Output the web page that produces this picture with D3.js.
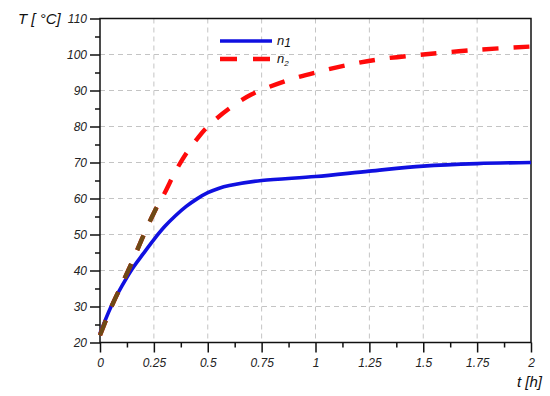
<!DOCTYPE html>
<html>
<head>
<meta charset="utf-8">
<script src="https://cdn.jsdelivr.net/npm/d3@7"></script>
<style>
  body { margin: 0; background: #fff; }
  svg { display: block; font-family: "Liberation Sans", Arial, sans-serif; }
  .tick-label { font-size: 12px; font-style: italic; fill: #222; }
  .axis-title { font-size: 15px; font-style: italic; fill: #111; }
</style>
</head>
<body>
<svg id="chart" width="550" height="396"></svg>
<script>
// ---- data ----
const tN1 = [0, 0.05, 0.1, 0.15, 0.2, 0.25, 0.3, 0.35, 0.4, 0.45, 0.5, 0.55, 0.6, 0.75, 1.0, 1.25, 1.5, 1.75, 2.0];
const valN1 = [22.5, 29.8, 35.5, 40.5, 44.6, 48.6, 52.2, 55.2, 57.8, 59.9, 61.6, 62.8, 63.6, 65.0, 66.1, 67.6, 69.0, 69.7, 70.0];
const tN2 = [0, 0.05, 0.1, 0.15, 0.2, 0.25, 0.3, 0.35, 0.4, 0.45, 0.5, 0.6, 0.7, 0.85, 1.0, 1.15, 1.3, 1.5, 1.75, 2.0];
const valN2 = [22, 29.5, 36, 42.5, 49.5, 56, 61.5, 67.5, 72.5, 76.5, 80, 85, 88.8, 92.4, 95, 97.1, 98.7, 100, 101.3, 102.2];
const xTicks = [0, 0.25, 0.5, 0.75, 1, 1.25, 1.5, 1.75, 2];
const xTickLabels = ['0', '0.25', '0.5', '0.75', '1', '1.25', '1.5', '1.75', '2'];
const yTicks = [20, 30, 40, 50, 60, 70, 80, 90, 100, 110];
const brownUntil = 0.27; // early part of n2 drawn brown in the original

const svg = d3.select('#chart');
const m = { left: 100, right: 531, top: 18.5, bottom: 342.5 };

const x = d3.scaleLinear().domain([0, 2]).range([m.left, m.right]);
const y = d3.scaleLinear().domain([20, 110]).range([m.bottom, m.top]);

// ============== grid ==============
const grid = svg.append('g').attr('stroke', '#c4c4c4').attr('stroke-width', 1).attr('stroke-dasharray', '5,4');
grid.selectAll('.vg').data(xTicks.slice(1, -1)).enter().append('line')
  .attr('x1', d => x(d)).attr('x2', d => x(d)).attr('y1', m.top).attr('y2', m.bottom);
grid.selectAll('.hg').data(yTicks.slice(1, -1)).enter().append('line')
  .attr('x1', m.left).attr('x2', m.right).attr('y1', d => y(d)).attr('y2', d => y(d));

// ============== axes ==============
const yAxis = svg.append('g').attr('transform', `translate(${m.left},0)`)
  .call(d3.axisLeft(y).tickValues(yTicks).tickSize(10).tickPadding(3));
const yMinor = svg.append('g').attr('transform', `translate(${m.left},0)`)
  .call(d3.axisLeft(y).tickValues(d3.range(25, 110, 10)).tickSize(5).tickFormat(''));

const xAxis = svg.append('g').attr('transform', `translate(0,${m.bottom})`)
  .call(d3.axisBottom(x).tickValues(xTicks).tickSize(10).tickPadding(6).tickFormat((d, i) => xTickLabels[i]));
const xMinor = svg.append('g').attr('transform', `translate(0,${m.bottom})`)
  .call(d3.axisBottom(x).tickValues(d3.range(0.125, 2, 0.25)).tickSize(5).tickFormat(''));

[yAxis, yMinor, xAxis, xMinor].forEach(g => {
  g.select('.domain').remove();
  g.selectAll('.tick line').attr('stroke', '#111').attr('stroke-width', 1.5);
  g.selectAll('.tick text').attr('class', 'tick-label').attr('font-size', null).attr('font-family', null);
});

// frame
svg.append('rect').attr('x', m.left).attr('y', m.top)
  .attr('width', m.right - m.left).attr('height', m.bottom - m.top)
  .attr('fill', 'none').attr('stroke', '#111').attr('stroke-width', 1.5);

// ============== curves ==============
const line = d3.line().x(d => x(d[0])).y(d => y(d[1])).curve(d3.curveCatmullRom.alpha(0.5));
const n1 = tN1.map((t, i) => [t, valN1[i]]);
const n2 = tN2.map((t, i) => [t, valN2[i]]);

svg.append('defs').append('clipPath').attr('id', 'early')
  .append('rect').attr('x', 0).attr('y', 0).attr('width', x(brownUntil)).attr('height', 396);

svg.append('path').datum(n1).attr('d', line)
  .attr('fill', 'none').attr('stroke', '#1010e0').attr('stroke-width', 3.6);
svg.append('path').datum(n2).attr('d', line)
  .attr('fill', 'none').attr('stroke', '#ff0a0a').attr('stroke-width', 4.4).attr('stroke-dasharray', '16,15');
svg.append('path').datum(n2).attr('d', line).attr('clip-path', 'url(#early)')
  .attr('fill', 'none').attr('stroke', '#6e4a16').attr('stroke-width', 4.4).attr('stroke-dasharray', '16,15');

// ============== legend ==============
const lg = svg.append('g');
lg.append('line').attr('x1', 220).attr('x2', 272).attr('y1', 41).attr('y2', 41)
  .attr('stroke', '#1010e0').attr('stroke-width', 3.6);
lg.append('line').attr('x1', 220).attr('x2', 272).attr('y1', 59).attr('y2', 59)
  .attr('stroke', '#ff0a0a').attr('stroke-width', 4.4).attr('stroke-dasharray', '17,16');
const t1 = lg.append('text').attr('x', 277).attr('y', 45).attr('class', 'axis-title').style('font-size', '13px');
t1.append('tspan').text('n');
t1.append('tspan').attr('dy', 2).style('font-size', '12px').text('1');
const t2 = lg.append('text').attr('x', 277).attr('y', 63).attr('class', 'axis-title').style('font-size', '13px');
t2.append('tspan').text('n');
t2.append('tspan').attr('dy', 3).style('font-size', '8px').text('2');

// ============== axis titles ==============
svg.append('text').attr('class', 'axis-title').attr('x', 18).attr('y', 24).text('T [ °C]');
svg.append('text').attr('class', 'axis-title').attr('x', 517).attr('y', 387).text('t [h]');
</script>
</body>
</html>
